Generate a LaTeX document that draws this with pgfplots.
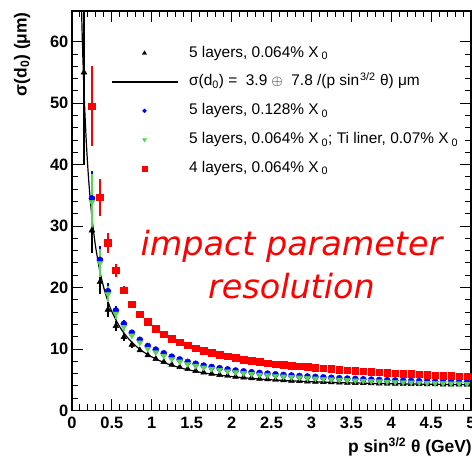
\documentclass[border=0pt]{standalone}
\usepackage{fontspec}
\setmainfont{Liberation Sans}
\newfontfamily\redfont{DejaVu Sans}
\usepackage{pgfplots}
\usepackage{pgfplotstable}
\pgfplotsset{compat=1.18}
\definecolor{rootgreen}{RGB}{89,212,84}
\definecolor{rootblue}{RGB}{0,0,255}
\definecolor{rootred}{RGB}{255,0,0}

\pgfplotsset{
  legmark/.style={legend image code/.code={\path (0bp,0bp) (66bp,0bp); \draw[##1] plot coordinates {(33bp,0bp)};}},
  legline/.style={legend image code/.code={\draw[##1] (0bp,0bp) -- (66bp,0bp);}},
}

\pgfplotstableread{
x y e
0.15 55.0 15.0
0.25 29.3 3.7
0.35 20.9 2.0
0.45 16.4 1.2
0.55 13.75 0.8
0.65 11.95 0.6
0.75 10.7 0.45
0.85 9.8 0.35
0.95 9.0 0.3
1.05 8.4 0.25
1.15 7.9 0.25
1.25 7.45 0.25
1.35 7.07 0.25
1.45 6.75 0.25
1.55 6.45 0.25
1.65 6.2 0.25
1.75 5.98 0.25
1.85 5.8 0.25
1.95 5.65 0.25
2.05 5.5 0.25
2.15 5.38 0.25
2.25 5.27 0.25
2.35 5.17 0.25
2.45 5.08 0.25
2.55 5.0 0.25
2.65 4.93 0.25
2.75 4.86 0.25
2.85 4.80 0.25
2.95 4.74 0.25
3.05 4.69 0.25
3.15 4.64 0.25
3.25 4.60 0.25
3.35 4.56 0.25
3.45 4.52 0.25
3.55 4.49 0.25
3.65 4.46 0.25
3.75 4.43 0.25
3.85 4.40 0.25
3.95 4.38 0.25
4.05 4.36 0.25
4.15 4.34 0.25
4.25 4.32 0.25
4.35 4.30 0.25
4.45 4.28 0.25
4.55 4.27 0.25
4.65 4.25 0.25
4.75 4.24 0.25
4.85 4.23 0.25
4.95 4.22 0.25
}\blacktab

\pgfplotstableread{
x y e
0.25 34.5 4.5
0.35 24.5 2.3
0.45 19.4 1.3
0.55 16.25 0.8
0.65 14.1 0.6
0.75 12.65 0.45
0.85 11.5 0.35
0.95 10.5 0.3
1.05 9.9 0.2
1.15 9.3 0.2
1.25 8.75 0.2
1.35 8.3 0.2
1.45 7.9 0.2
1.55 7.6 0.2
1.65 7.3 0.2
1.75 7.08 0.2
1.85 6.88 0.2
1.95 6.68 0.2
2.05 6.5 0.2
2.15 6.36 0.2
2.25 6.22 0.2
2.35 6.1 0.2
2.45 5.99 0.2
2.55 5.88 0.2
2.65 5.78 0.2
2.75 5.69 0.2
2.85 5.61 0.2
2.95 5.53 0.2
3.05 5.46 0.2
3.15 5.39 0.2
3.25 5.32 0.2
3.35 5.25 0.2
3.45 5.19 0.2
3.55 5.13 0.2
3.65 5.07 0.2
3.75 5.02 0.2
3.85 4.97 0.2
3.95 4.92 0.2
4.05 4.88 0.2
4.15 4.84 0.2
4.25 4.80 0.2
4.35 4.76 0.2
4.45 4.73 0.2
4.55 4.70 0.2
4.65 4.67 0.2
4.75 4.64 0.2
4.85 4.61 0.2
4.95 4.58 0.2
}\bluetab

\pgfplotstableread{
x y e
0.25 33.9 4.5
0.35 24.0 2.3
0.45 18.9 1.3
0.55 15.75 0.8
0.65 13.6 0.6
0.75 12.2 0.45
0.85 11.05 0.35
0.95 10.05 0.3
1.05 9.45 0.2
1.15 8.9 0.2
1.25 8.38 0.2
1.35 7.95 0.2
1.45 7.57 0.2
1.55 7.28 0.2
1.65 6.99 0.2
1.75 6.78 0.2
1.85 6.58 0.2
1.95 6.39 0.2
2.05 6.22 0.2
2.15 6.08 0.2
2.25 5.95 0.2
2.35 5.83 0.2
2.45 5.72 0.2
2.55 5.62 0.2
2.65 5.52 0.2
2.75 5.43 0.2
2.85 5.35 0.2
2.95 5.27 0.2
3.05 5.20 0.2
3.15 5.13 0.2
3.25 5.06 0.2
3.35 5.00 0.2
3.45 4.94 0.2
3.55 4.88 0.2
3.65 4.83 0.2
3.75 4.78 0.2
3.85 4.73 0.2
3.95 4.68 0.2
4.05 4.64 0.2
4.15 4.60 0.2
4.25 4.56 0.2
4.35 4.52 0.2
4.45 4.49 0.2
4.55 4.46 0.2
4.65 4.43 0.2
4.75 4.40 0.2
4.85 4.37 0.2
4.95 4.34 0.2
}\greentab

\pgfplotstableread{
x y e
0.25 49.5 6.5
0.35 34.7 3.0
0.45 27.3 1.6
0.55 22.8 1.0
0.65 19.6 0.7
0.75 17.3 0.5
0.85 15.7 0.4
0.95 14.4 0.35
1.05 13.3 0.3
1.15 12.4 0.25
1.25 11.7 0.2
1.35 11.1 0.2
1.45 10.6 0.2
1.55 10.15 0.2
1.65 9.75 0.2
1.75 9.45 0.2
1.85 9.1 0.2
1.95 8.85 0.2
2.05 8.55 0.2
2.15 8.3 0.2
2.25 8.1 0.2
2.35 7.9 0.2
2.45 7.72 0.2
2.55 7.56 0.2
2.65 7.44 0.2
2.75 7.33 0.2
2.85 7.22 0.2
2.95 7.08 0.2
3.05 6.97 0.2
3.15 6.88 0.2
3.25 6.78 0.2
3.35 6.66 0.2
3.45 6.57 0.2
3.55 6.48 0.2
3.65 6.38 0.2
3.75 6.30 0.2
3.85 6.22 0.2
3.95 6.15 0.2
4.05 6.08 0.2
4.15 6.01 0.2
4.25 5.95 0.2
4.35 5.89 0.2
4.45 5.83 0.2
4.55 5.77 0.2
4.65 5.71 0.2
4.75 5.66 0.2
4.85 5.61 0.2
4.95 5.56 0.2
}\redtab

\begin{document}
\begin{tikzpicture}
\begin{axis}[
  scale only axis,
  width=399bp, height=399.5bp,
  xmin=0, xmax=5, ymin=0, ymax=65,
  xtick={0,0.5,1,1.5,2,2.5,3,3.5,4,4.5,5},
  xticklabels={\textbf{0},\textbf{0.5},\textbf{1},\textbf{1.5},\textbf{2},\textbf{2.5},\textbf{3},\textbf{3.5},\textbf{4},\textbf{4.5},\textbf{5}},
  ytick={0,10,20,30,40,50,60},
  yticklabels={\textbf{0},\textbf{10},\textbf{20},\textbf{30},\textbf{40},\textbf{50},\textbf{60}},
  minor x tick num=4, minor y tick num=4,
  tick align=inside,
  major tick length=11bp, minor tick length=6bp,
  axis line style={line width=1.8bp},
  every tick/.style={black, line width=1bp},
  ticklabel style={font=\fontsize{16.5}{18}\selectfont\bfseries, inner sep=0pt},
  xticklabel shift=6bp, yticklabel shift=3.5bp,
  legend cell align=left,
  legend style={at={(axis cs:0.4875,59.3)}, anchor=north west, draw=none, fill=none,
    inner sep=0pt, outer sep=0pt, row sep=14.3bp, column sep=11bp,
    font=\fontsize{15.5}{18}\selectfont,
    nodes={inner sep=0pt, outer sep=0pt, text height=11bp, text depth=3.5bp}},
]
\coordinate (bl) at (rel axis cs:0,0);
\coordinate (tl) at (rel axis cs:0,1);
\coordinate (br) at (rel axis cs:1,0);

\addlegendimage{legmark, only marks, mark=triangle*, black, mark size=2.4bp}
\addlegendentry{5 layers, 0.064\% X\hspace{3bp}\textsubscript{0}}
\addlegendimage{legline, black, line width=1.2bp}
\addlegendentry{σ(d\textsubscript{0}) =\ \ 3.9 $\oplus$\ \ 7.8 /(p sin\hspace{1bp}\textsuperscript{3/2} θ) μm}
\addlegendimage{legmark, only marks, mark=*, rootblue, mark size=1.9bp}
\addlegendentry{5 layers, 0.128\% X\hspace{3bp}\textsubscript{0}}
\addlegendimage{legmark, only marks, mark=triangle*, mark options={rotate=180}, rootgreen, mark size=2.4bp}
\addlegendentry{5 layers, 0.064\% X\hspace{3bp}\textsubscript{0}; Ti liner, 0.07\% X\hspace{3bp}\textsubscript{0}}
\addlegendimage{legmark, only marks, mark=square*, rootred, mark size=2.3bp}
\addlegendentry{4 layers, 0.064\% X\hspace{3bp}\textsubscript{0}}

\addplot[forget plot, black, only marks, mark=triangle*, mark size=3.4bp,
  error bars/.cd, y dir=both, y explicit, error mark=none,
  error bar style={black, line width=1.4bp}]
  table[x=x, y=y, y error=e] {\blacktab};
\addplot[forget plot, black, line width=1.2bp, smooth] coordinates {
(0.12,65.12) (0.125,62.52) (0.13,60.13) (0.14,55.85) (0.15,52.15) (0.16,48.91)
(0.18,43.51) (0.2,39.19) (0.22,35.67) (0.25,31.44) (0.28,28.13) (0.3,26.29)
(0.35,22.62) (0.4,19.89) (0.45,17.77) (0.5,16.08) (0.6,13.57) (0.7,11.81)
(0.8,10.50) (0.9,9.50) (1.0,8.72) (1.1,8.09) (1.2,7.58) (1.3,7.16) (1.4,6.80)
(1.6,6.24) (1.8,5.83) (2.0,5.52) (2.25,5.22) (2.5,4.99) (2.75,4.82) (3.0,4.69)
(3.5,4.49) (4.0,4.36) (4.5,4.27) (5.0,4.20)};
\addplot[forget plot, rootblue, only marks, mark=*, mark size=3.1bp,
  error bars/.cd, y dir=both, y explicit, error mark=none,
  error bar style={rootblue, line width=1.4bp}]
  table[x=x, y=y, y error=e] {\bluetab};
\addplot[forget plot, rootgreen, only marks, mark=triangle*, mark options={rotate=180}, mark size=3.4bp,
  error bars/.cd, y dir=both, y explicit, error mark=none,
  error bar style={rootgreen, line width=1.4bp}]
  table[x=x, y=y, y error=e] {\greentab};
\addplot[forget plot, rootred, only marks, mark=square*, mark size=3.3bp,
  error bars/.cd, y dir=both, y explicit, error mark=none,
  error bar style={rootred, line width=1.4bp}]
  table[x=x, y=y, y error=e] {\redtab};

\node[anchor=base, text=rootred, font=\redfont\itshape\fontsize{33.5}{40}\selectfont] at (axis cs:2.75,25.3) {impact parameter};
\node[anchor=base, text=rootred, font=\redfont\itshape\fontsize{33.5}{40}\selectfont] at (axis cs:2.75,18.3) {resolution};
\end{axis}
\node[xshift=-50bp, yshift=-1bp, rotate=90, anchor=east, inner sep=0pt, font=\fontsize{17.5}{20}\selectfont\bfseries] at (tl) {σ(d\textsubscript{0}) (μm)};
\node[xshift=1bp, yshift=-42bp, anchor=base east, inner sep=0pt, font=\fontsize{17.5}{20}\selectfont\bfseries] at (br) {p sin\textsuperscript{3/2} θ (GeV)};
\pgfresetboundingbox
\path (bl) ++(-72bp,-52.5bp) rectangle ++(472bp,463bp);
\end{tikzpicture}
\end{document}
